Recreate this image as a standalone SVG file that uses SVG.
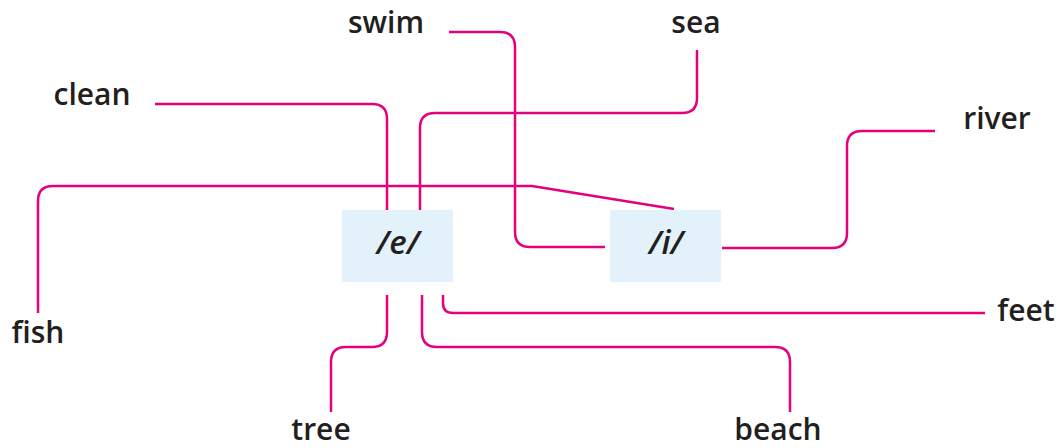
<svg xmlns="http://www.w3.org/2000/svg" width="1063" height="448" viewBox="0 0 1063 448">
<style>
.bg{fill:#ffffff}
.box{fill:#e3f1fa}
.lbl{font-family:"Open Sans","Liberation Sans",sans-serif;font-weight:600;font-size:30px;fill:#231f20;text-anchor:middle}
.ph{font-family:"Open Sans","Liberation Sans",sans-serif;font-weight:600;font-style:italic;font-size:33px;fill:#231f20;text-anchor:middle}
.c{fill:none;stroke:#e5007d;stroke-width:2.5;stroke-linejoin:round}
</style>
<rect class="bg" x="0" y="0" width="1063" height="448"/>
<g id="connectors">
<path class="c" d="M449,32 H500 Q515,32 515,47 V232 Q515,247 530,247 H605"/>
<path class="c" d="M697,50 V98 Q697,113 682,113 H435 Q420,113 420,128 V210"/>
<path class="c" d="M155,104 H372 Q387,104 387,119 V210"/>
<path class="c" d="M38,313 V201 Q38,186 53,186 H532 L674,209"/>
<path class="c" d="M935,131 H862 Q847,131 847,146 V233 Q847,248 832,248 H722"/>
<path class="c" d="M443,295 V303 Q443,313 453,313 H985"/>
<path class="c" d="M422,295 V332 Q422,347 437,347 H775 Q790,347 790,362 V412"/>
<path class="c" d="M387,295 V332 Q387,347 372,347 H346 Q331,347 331,362 V412"/>
</g>
<g id="node-e"><rect class="box" x="342" y="210" width="111" height="72"/><text class="ph" x="398" y="254">/e/</text></g>
<g id="node-i"><rect class="box" x="610" y="210" width="111" height="72"/><text class="ph" x="666" y="254">/i/</text></g>
<g id="node-swim"><text class="lbl" x="386" y="33">swim</text></g>
<g id="node-sea"><text class="lbl" x="696" y="33">sea</text></g>
<g id="node-clean"><text class="lbl" x="92" y="105">clean</text></g>
<g id="node-river"><text class="lbl" x="997" y="129">river</text></g>
<g id="node-fish"><text class="lbl" x="38" y="343">fish</text></g>
<g id="node-feet"><text class="lbl" x="1026" y="321">feet</text></g>
<g id="node-tree"><text class="lbl" x="321" y="440">tree</text></g>
<g id="node-beach"><text class="lbl" x="778" y="440">beach</text></g>
</svg>
